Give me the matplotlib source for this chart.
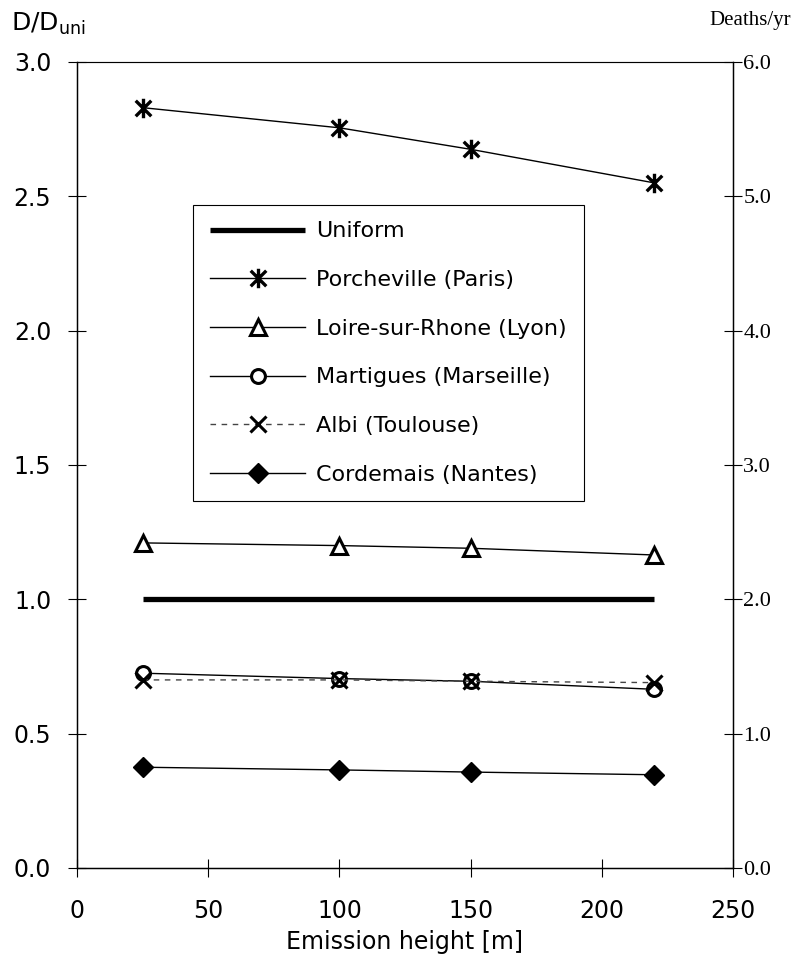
import matplotlib

matplotlib.use("Agg")
import matplotlib.pyplot as plt
from matplotlib.path import Path

# emission heights [m]
heights = [25, 100, 150, 220]
uniform = [1.0, 1.0, 1.0, 1.0]
porcheville = [2.83, 2.755, 2.675, 2.55]
loire = [1.21, 1.20, 1.19, 1.165]
martigues = [0.725, 0.705, 0.695, 0.665]
albi = [0.70, 0.70, 0.695, 0.69]
cordemais = [0.375, 0.365, 0.357, 0.347]

labels = ["Uniform", "Porcheville (Paris)", "Loire-sur-Rhone (Lyon)",
          "Martigues (Marseille)", "Albi (Toulouse)", "Cordemais (Nantes)"]
left_ticks = [0.0, 0.5, 1.0, 1.5, 2.0, 2.5, 3.0]
right_ticks = [0.0, 1.0, 2.0, 3.0, 4.0, 5.0, 6.0]
x_ticks = [0, 50, 100, 150, 200, 250]

SANS = "DejaVu Sans"
SERIF = "Liberation Serif"

# asterisk: vertical bar plus an X
M, L = Path.MOVETO, Path.LINETO
asterisk = Path([(0, -1), (0, 1), (-0.8, -0.8), (0.8, 0.8), (-0.8, 0.8), (0.8, -0.8)],
                [M, L, M, L, M, L])

fig = plt.figure(figsize=(8.03, 9.67), dpi=100)
ax = fig.add_axes([0.0959, 0.1024, 0.8169, 0.8335])

ax.plot(heights, uniform, color="black", lw=3.8, solid_capstyle="butt", label=labels[0])
ax.plot(heights, porcheville, color="black", lw=1, marker=asterisk, ms=14, mew=2.4,
        label=labels[1])
ax.plot(heights, loire, color="black", lw=1, marker="^", ms=11, mew=2.2,
        mfc="white", label=labels[2])
ax.plot(heights, martigues, color="black", lw=1, marker="o", ms=10, mew=2.2,
        mfc="white", label=labels[3])
ax.plot(heights, albi, color="#444444", lw=1, ls=(0, (4, 4)), marker="x", ms=11,
        mew=2.2, mec="black", label=labels[4])
ax.plot(heights, cordemais, color="black", lw=1, marker="D", ms=10, label=labels[5])

ax.set_xlim(0, 250)
ax.set_ylim(0, 3.0)
ax.set_xticks(x_ticks)
ax.set_yticks(left_ticks)
ax.set_yticklabels([f"{v:.1f}" for v in left_ticks])
ax.tick_params(direction="inout", length=13, width=0.8, labelsize=17)
ax.tick_params(axis="y", pad=12)
ax.tick_params(axis="x", pad=16)
for lab in ax.get_xticklabels() + ax.get_yticklabels():
    lab.set_family(SANS)
for s in ax.spines.values():
    s.set_linewidth(1.0)
ax.spines["top"].set_color("#777777")
ax.spines["top"].set_linewidth(0.8)

ax2 = ax.twinx()
ax2.set_ylim(0, 6.0)
ax2.set_yticks(right_ticks)
ax2.set_yticklabels([f"{v:.1f}" for v in right_ticks], family=SERIF)
ax2.tick_params(direction="inout", length=13, width=0.8, labelsize=16, pad=1)

ax.set_xlabel("Emission height [m]", fontsize=17, family=SANS, labelpad=5)
fig.text(0.014, 0.975, r"D/D$_{\mathregular{uni}}$", fontsize=18, family=SANS,
         ha="left", va="center")
fig.text(0.985, 0.979, "Deaths/yr", fontsize=15, family=SERIF, ha="right",
         va="center")

leg = ax.legend(loc="upper left", bbox_to_anchor=(0.177, 0.823),
                prop={"family": SANS, "size": 16}, handlelength=4.3,
                labelspacing=1.29, borderpad=0.75, handletextpad=0.5,
                borderaxespad=0, fancybox=False, framealpha=1, edgecolor="black")
leg.get_frame().set_linewidth(0.8)

fig.savefig("out.png", dpi=100, facecolor="white")
